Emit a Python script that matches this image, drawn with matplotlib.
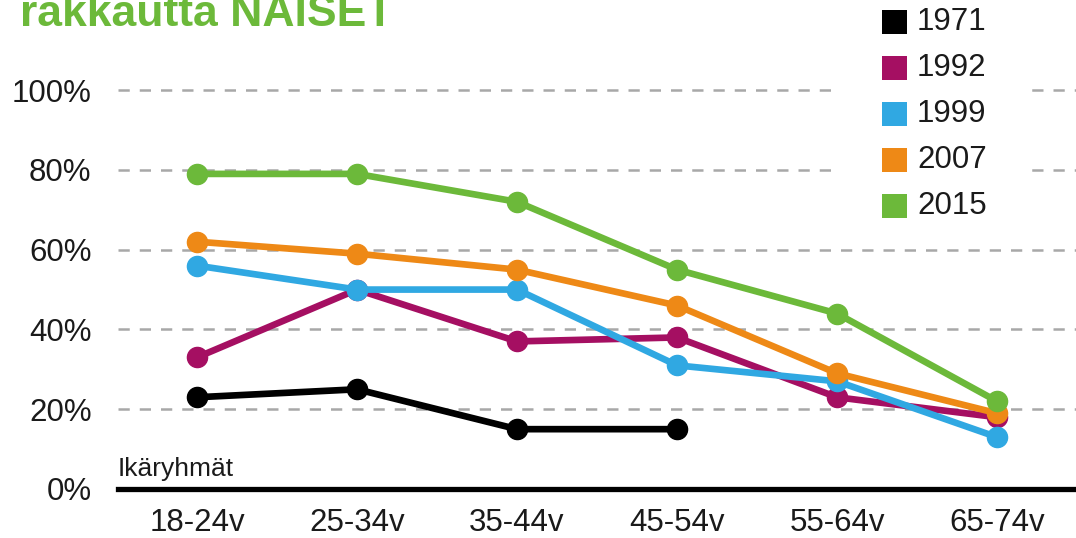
import matplotlib
matplotlib.use("Agg")
import matplotlib.pyplot as plt
from matplotlib.patches import Rectangle

plt.rcParams['font.family'] = ['Liberation Sans', 'DejaVu Sans']

categories = ["18-24v", "25-34v", "35-44v", "45-54v", "55-64v", "65-74v"]
years = ["1971", "1992", "1999", "2007", "2015"]
v1971 = [23, 25, 15, 15]
v1992 = [33, 50, 37, 38, 23, 18]
v1999 = [56, 50, 50, 31, 27, 13]
v2007 = [62, 59, 55, 46, 29, 19]
v2015 = [79, 79, 72, 55, 44, 22]
series = [v1971, v1992, v1999, v2007, v2015]
colors = ["#000000", "#a50f62", "#30a8e2", "#ee8916", "#6cb93a"]
yticks = [0, 20, 40, 60, 80, 100]
ytick_labels = ["0%", "20%", "40%", "60%", "80%", "100%"]
title = "rakkautta NAISET"
xlabel = "Ikäryhmät"

W, H = 1076, 538
fig = plt.figure(figsize=(W / 100, H / 100), dpi=100)
ax = fig.add_axes([118 / W, 49 / H, 958 / W, 489 / H])
ax.set_xlim(-0.494, 5.494)
ax.set_ylim(0, 122.6)

for s in ax.spines.values():
    s.set_visible(False)

for y in yticks[1:]:
    ax.axhline(y, color="#a8a8a8", lw=1.8, ls=(0, (4.5, 4)), zorder=1)
ax.axhline(0, color="#000000", lw=3.8, zorder=2, clip_on=False)

for vals, c in zip(series, colors):
    ax.plot(range(len(vals)), vals, color=c, lw=4.8, marker="o", ms=14.5,
            solid_capstyle="round", zorder=3)

ax.set_xticks(range(len(categories)))
ax.set_xticklabels(categories, fontsize=22.5, color="#1a1a1a")
ax.set_yticks(yticks)
ax.set_yticklabels(ytick_labels, fontsize=22.5, color="#1a1a1a")
ax.tick_params(axis="both", length=0)
ax.tick_params(axis="y", pad=19)
ax.tick_params(axis="x", pad=14)

fig.text(118 / W, 1 - 476 / H, xlabel, fontsize=19, color="#1a1a1a",
         ha="left", va="baseline")

fig.text(20 / W, 1 - 26 / H, title, fontsize=32, fontweight="bold",
         color="#6cb93a", ha="left", va="baseline")

# legend
fig.patches.append(Rectangle((840 / W, 1 - 228 / H), 186 / W, 228 / H,
                             transform=fig.transFigure, facecolor="white",
                             edgecolor="none", zorder=5))
row0 = 22
step = 46
for i, (lab, c) in enumerate(zip(years, colors)):
    yc = row0 + i * step
    fig.patches.append(Rectangle((882 / W, 1 - (yc + 12) / H), 25 / W, 24 / H,
                                 transform=fig.transFigure, facecolor=c,
                                 edgecolor="none", zorder=6))
    fig.text(917 / W, 1 - yc / H, lab, fontsize=22.5, color="#1a1a1a",
             ha="left", va="center", zorder=7)

fig.savefig("out.png", dpi=100, facecolor="white")
